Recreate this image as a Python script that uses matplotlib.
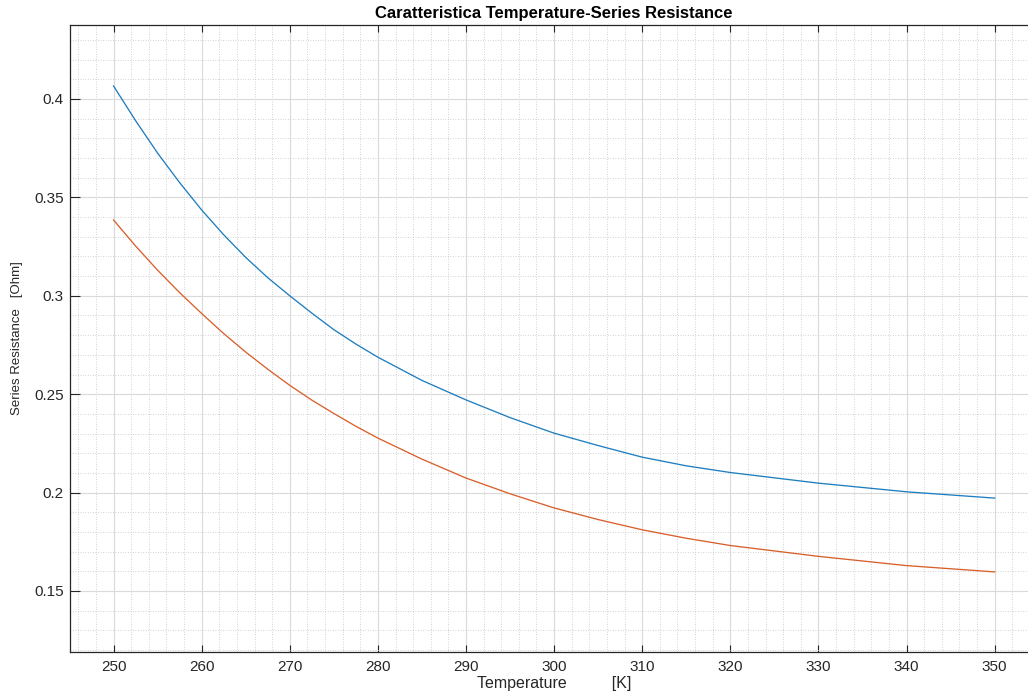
import matplotlib
matplotlib.use("Agg")
import matplotlib.pyplot as plt
from matplotlib.ticker import MultipleLocator, FixedLocator

plt.rcParams['font.family'] = ['Liberation Sans', 'DejaVu Sans']

temperature = [250, 252.5, 255, 257.5, 260, 262.5, 265, 267.5, 270, 272.5, 275, 277.5,
               280, 285, 290, 295, 300, 305, 310, 315, 320, 330, 340, 350]
resistance_blue = [0.4066, 0.3890, 0.3725, 0.3575, 0.3436, 0.3310, 0.3195, 0.3092,
                   0.3000, 0.2912, 0.2828, 0.2755, 0.2688, 0.2570, 0.2471, 0.2381,
                   0.2302, 0.2239, 0.2180, 0.2136, 0.2102, 0.2048, 0.2004, 0.1972]
resistance_orange = [0.3385, 0.3253, 0.3130, 0.3016, 0.2910, 0.2808, 0.2714, 0.2627,
                     0.2545, 0.2470, 0.2402, 0.2337, 0.2277, 0.2170, 0.2074, 0.1994,
                     0.1922, 0.1863, 0.1811, 0.1768, 0.1731, 0.1676, 0.1629, 0.1597]

x_ticks = [250, 260, 270, 280, 290, 300, 310, 320, 330, 340, 350]
y_ticks = [0.15, 0.2, 0.25, 0.3, 0.35, 0.4]
y_tick_labels = ['0.15', '0.2', '0.25', '0.3', '0.35', '0.4']

title = 'Caratteristica Temperature-Series Resistance'
x_label = 'Temperature          [K]'
y_label = 'Series Resistance   [Ohm]'

W, H = 1028, 693
fig = plt.figure(figsize=(W / 100, H / 100), dpi=100)
fig.patch.set_facecolor('white')
left, right, top, bottom = 69.5, 1038.7, 25, 652
ax = fig.add_axes([left / W, 1 - bottom / H, (right - left) / W, (bottom - top) / H])

ax.plot(temperature, resistance_blue, color='#1f7ec0', lw=0.95)
ax.plot(temperature, resistance_orange, color='#d8602c', lw=0.95)

ax.set_xlim(245, 355)
ax.set_ylim(0.119, 0.4376)
ax.xaxis.set_major_locator(FixedLocator(x_ticks))
ax.set_yticks(y_ticks)
ax.set_yticklabels(y_tick_labels)
ax.xaxis.set_minor_locator(MultipleLocator(2))
ax.yaxis.set_minor_locator(MultipleLocator(0.01))

ax.grid(which='major', color='#dadada', linestyle='-', linewidth=0.8)
ax.grid(which='minor', color='#c4c4c4', linestyle=(0, (1, 2)), linewidth=0.6)
ax.set_axisbelow(True)

tc = '#262626'
ax.tick_params(axis='both', which='major', direction='in', top=True, right=True,
               labelsize=11, colors=tc, width=0.8)
ax.tick_params(axis='x', which='major', length=5, pad=6)
ax.tick_params(axis='y', which='major', length=7.2, pad=4)
ax.tick_params(which='minor', length=0, top=True, right=True)
for s in ax.spines.values():
    s.set_color(tc)
    s.set_linewidth(0.9)

ax.set_title(title, fontsize=12, fontweight='bold', color='black', pad=5)
ax.set_xlabel(x_label, fontsize=11.5, color=tc, labelpad=1)
ax.set_ylabel(y_label, fontsize=9.5, color=tc, labelpad=8)

fig.savefig('out.png', dpi=100)
